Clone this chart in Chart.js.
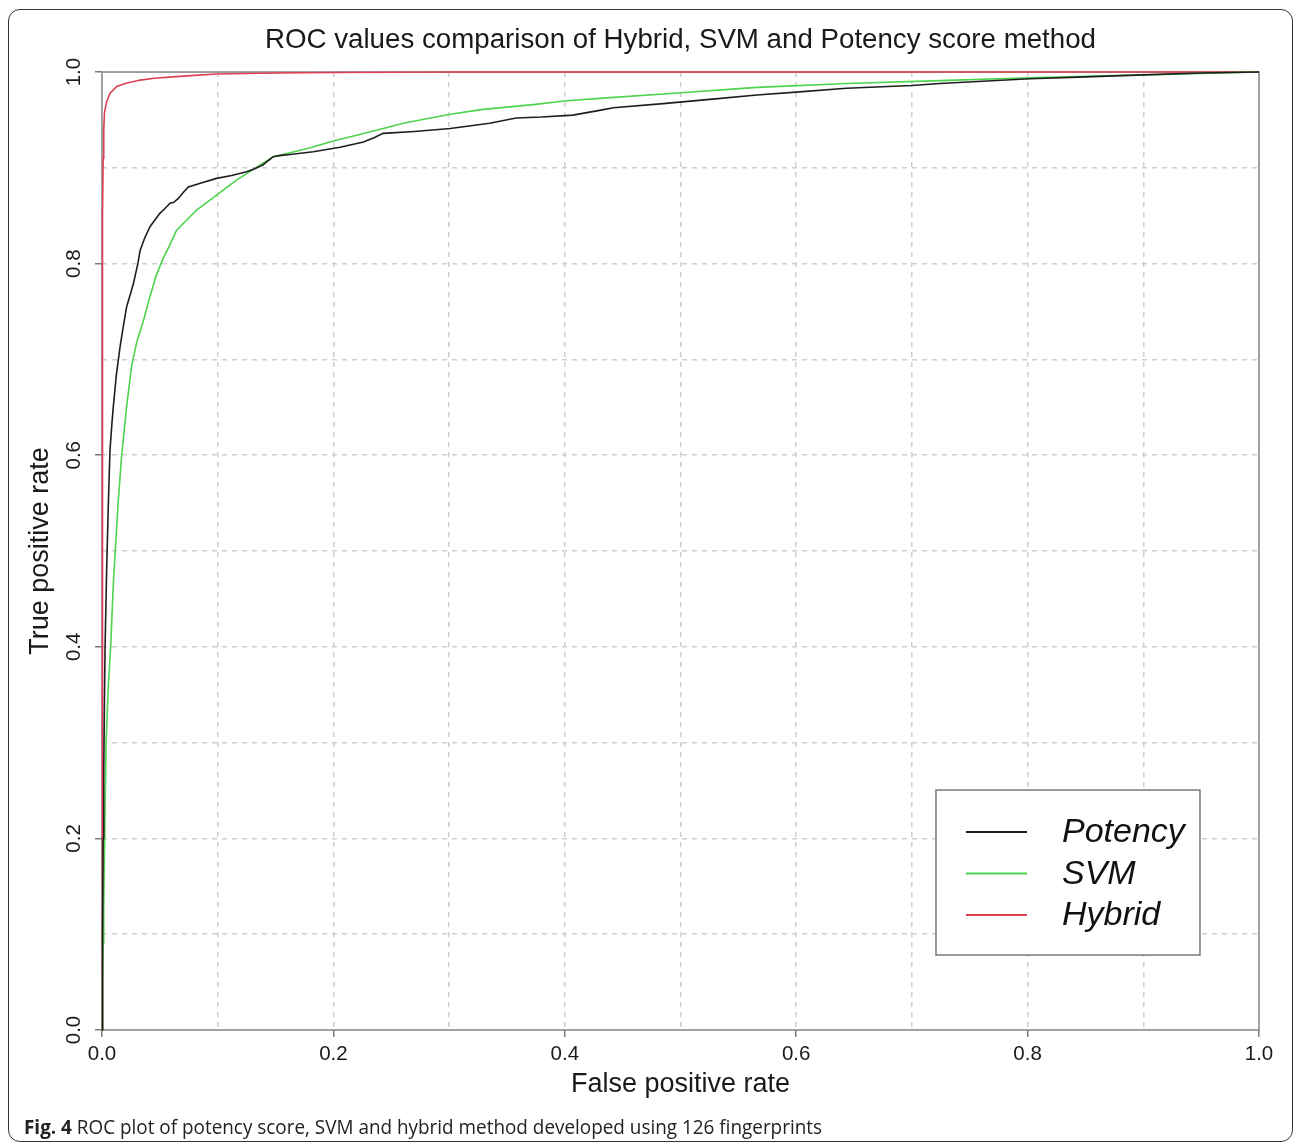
<!DOCTYPE html>
<html><head><meta charset="utf-8">
<script src="https://cdn.jsdelivr.net/npm/chart.js@4/dist/chart.umd.min.js"></script>
<style>
html,body{margin:0;padding:0;background:#fff;}
#wrap{position:relative;width:1295px;height:1144px;overflow:hidden;background:#fff;}
#frame{position:absolute;left:8px;top:9px;width:1285px;height:1133px;border:1.5px solid #333;border-radius:12px;box-sizing:border-box;}
#c{position:absolute;left:0;top:0;}
#caption{position:absolute;left:24px;top:1113px;font-family:"Open Sans";font-size:19.5px;color:#222;white-space:nowrap;transform-origin:0 0;line-height:normal;}
#caption b{font-weight:700;}
</style></head>
<body>
<div id="wrap">
  <div id="frame"></div>
  <canvas id="c" width="1295" height="1144"></canvas>
  <div id="caption"><b>Fig. 4</b> ROC plot of potency score, SVM and hybrid method developed using 126 fingerprints</div>
</div>
<script>
// ---- data ----
const seriesNames = ['Potency', 'SVM', 'Hybrid'];
const seriesColors = ['#1e1e1e', '#4cd44c', '#de4052'];

const fprPotency = [0, 0.0005, 0.001, 0.0015, 0.002, 0.0026, 0.004, 0.0055, 0.0069, 0.0085, 0.0098, 0.0125, 0.0156, 0.0185, 0.0213, 0.0245, 0.0271, 0.031, 0.033, 0.037, 0.0415, 0.046, 0.050, 0.054, 0.0588, 0.062, 0.066, 0.070, 0.0746, 0.085, 0.099, 0.112, 0.125, 0.132, 0.139, 0.148, 0.155, 0.1625, 0.1826, 0.2057, 0.226, 0.236, 0.243, 0.27, 0.301, 0.335, 0.358, 0.38, 0.407, 0.430, 0.442, 0.485, 0.53, 0.566, 0.6, 0.6435, 0.7, 0.724, 0.802, 0.85, 0.9, 0.95, 1.0];
const tprPotency = [0, 0.1, 0.2, 0.27, 0.33, 0.397, 0.48, 0.55, 0.605, 0.632, 0.651, 0.685, 0.713, 0.735, 0.755, 0.768, 0.779, 0.80, 0.814, 0.827, 0.8386, 0.846, 0.8525, 0.857, 0.863, 0.864, 0.868, 0.874, 0.880, 0.884, 0.889, 0.892, 0.896, 0.899, 0.903, 0.9116, 0.913, 0.914, 0.9168, 0.9214, 0.927, 0.932, 0.936, 0.938, 0.941, 0.9465, 0.952, 0.953, 0.955, 0.960, 0.9628, 0.967, 0.972, 0.976, 0.979, 0.983, 0.986, 0.988, 0.993, 0.995, 0.997, 0.999, 1.0];

const fprSVM = [0, 0.0005, 0.001, 0.0015, 0.0023, 0.0035, 0.0055, 0.0075, 0.0098, 0.0141, 0.017, 0.0213, 0.0256, 0.030, 0.0357, 0.0415, 0.047, 0.053, 0.058, 0.0645, 0.0818, 0.099, 0.116, 0.134, 0.148, 0.1625, 0.18, 0.1999, 0.22, 0.243, 0.2604, 0.301, 0.3295, 0.3727, 0.4016, 0.430, 0.485, 0.566, 0.6435, 0.724, 0.802, 0.9, 1.0];
const tprSVM = [0, 0.05, 0.09, 0.13, 0.2, 0.30, 0.36, 0.40, 0.466, 0.553, 0.600, 0.651, 0.693, 0.718, 0.740, 0.766, 0.788, 0.806, 0.818, 0.835, 0.856, 0.8716, 0.887, 0.901, 0.9116, 0.9158, 0.921, 0.928, 0.934, 0.941, 0.9465, 0.956, 0.961, 0.966, 0.970, 0.9725, 0.977, 0.984, 0.988, 0.991, 0.994, 0.997, 1.0];

const fprHybrid = [0, 0.0002, 0.0004, 0.0007, 0.001, 0.0015, 0.0022, 0.004, 0.007, 0.0127, 0.02, 0.033, 0.045, 0.061, 0.08, 0.099, 0.15, 0.2, 0.3, 1.0];
const tprHybrid = [0, 0.4, 0.7, 0.85, 0.91, 0.94, 0.958, 0.969, 0.978, 0.985, 0.988, 0.9916, 0.9935, 0.995, 0.9965, 0.998, 0.999, 0.9995, 1.0, 1.0];

const majorTickLabels = ['0.0', '0.2', '0.4', '0.6', '0.8', '1.0'];
const chartTitle = 'ROC values comparison of Hybrid, SVM and Potency score method';
const xTitle = 'False positive rate';
const yTitle = 'True positive rate';

// ---- build ----
const FONT = '"Liberation Sans", Arial, Helvetica, sans-serif';
const toPoints = (xs, ys) => xs.map((x, i) => ({x: x, y: ys[i]}));
const seriesX = [fprPotency, fprSVM, fprHybrid];
const seriesY = [tprPotency, tprSVM, tprHybrid];

const datasets = seriesNames.map((name, i) => ({
  label: name,
  data: toPoints(seriesX[i], seriesY[i]),
  borderColor: seriesColors[i],
  backgroundColor: seriesColors[i],
  borderWidth: 1.6,
  pointRadius: 0,
  tension: 0,
  fill: false,
  clip: 4
}));

const isMajor = v => Math.round(v * 10) % 2 === 0;
const tickLabel = v => isMajor(v) ? majorTickLabels[Math.round(v * 5)] : '';
const isEdge = v => Math.abs(v) < 1e-9 || Math.abs(v - 1) < 1e-9;

const gridCfg = {
  color: c => isEdge(c.tick.value) ? 'rgba(0,0,0,0)' : '#cfcfcf',
  lineWidth: 1.5,
  drawTicks: true,
  tickLength: 7,
  tickColor: c => isMajor(c.tick.value) ? '#7a7a7a' : 'rgba(0,0,0,0)',
  tickWidth: 1.5
};

const boxPlugin = {
  id: 'boxPlugin',
  beforeDatasetsDraw(chart) {
    const a = chart.chartArea, ctx = chart.ctx;
    ctx.save();
    ctx.strokeStyle = '#8a8a8a';
    ctx.lineWidth = 1.6;
    ctx.strokeRect(a.left, a.top, a.right - a.left, a.bottom - a.top);
    ctx.restore();
  }
};

const legendPlugin = {
  id: 'insideLegend',
  afterDatasetsDraw(chart) {
    const a = chart.chartArea, ctx = chart.ctx;
    const w = a.right - a.left, h = a.bottom - a.top;
    const bx = a.left + 0.7208 * w, by = a.top + 0.7495 * h;
    const bw = 264, bh = 165;
    ctx.save();
    ctx.fillStyle = '#fff';
    ctx.fillRect(bx, by, bw, bh);
    ctx.strokeStyle = '#7a7a7a';
    ctx.lineWidth = 1.5;
    ctx.strokeRect(bx, by, bw, bh);
    ctx.font = 'italic 34px ' + FONT;
    ctx.textBaseline = 'middle';
    ctx.textAlign = 'left';
    chart.data.datasets.forEach((ds, i) => {
      const y = by + 42 + i * 41.5;
      ctx.strokeStyle = ds.borderColor;
      ctx.lineWidth = 2;
      ctx.beginPath();
      ctx.moveTo(bx + 30, y);
      ctx.lineTo(bx + 91, y);
      ctx.stroke();
      ctx.fillStyle = '#111';
      ctx.fillText(ds.label, bx + 126, y + 1);
    });
    ctx.restore();
  }
};

new Chart(document.getElementById('c'), {
  type: 'line',
  data: { datasets: datasets },
  options: {
    responsive: false,
    animation: false,
    layout: { padding: { left: 0, right: 36, top: 0, bottom: 0 } },
    plugins: {
      legend: { display: false },
      tooltip: { enabled: false },
      title: {
        display: true,
        text: chartTitle,
        fullSize: false,
        color: '#1a1a1a',
        font: { family: FONT, size: 27.7, weight: 'normal' },
        padding: { top: 24, bottom: 14.8 }
      }
    },
    scales: {
      x: {
        type: 'linear',
        min: 0, max: 1,
        grid: gridCfg,
        border: { display: false, dash: [5, 5] },
        ticks: {
          stepSize: 0.1,
          autoSkip: false,
          maxRotation: 0, minRotation: 0,
          padding: 5,
          color: '#1a1a1a',
          font: { family: FONT, size: 20.5 },
          callback: v => tickLabel(v)
        },
        title: {
          display: true, text: xTitle, color: '#1a1a1a',
          font: { family: FONT, size: 27 },
          padding: { top: 0, bottom: 43 }
        },
        afterFit: s => { s.height = 114; }
      },
      y: {
        type: 'linear',
        min: 0, max: 1,
        grid: gridCfg,
        border: { display: false, dash: [5, 5] },
        ticks: {
          stepSize: 0.1,
          autoSkip: false,
          minRotation: 90, maxRotation: 90,
          crossAlign: 'center',
          padding: 6,
          color: '#1a1a1a',
          font: { family: FONT, size: 20.5 },
          callback: v => tickLabel(v)
        },
        title: {
          display: true, text: yTitle, color: '#1a1a1a',
          font: { family: FONT, size: 27 },
          padding: { top: 24, bottom: 0 }
        },
        afterFit: s => { s.width = 102; }
      }
    }
  },
  plugins: [boxPlugin, legendPlugin]
});

// fit caption to the reference width
const cap = document.getElementById('caption');
const cw = cap.getBoundingClientRect().width;
cap.style.transform = 'scaleX(' + (798 / cw) + ')';
</script>
</body></html>
